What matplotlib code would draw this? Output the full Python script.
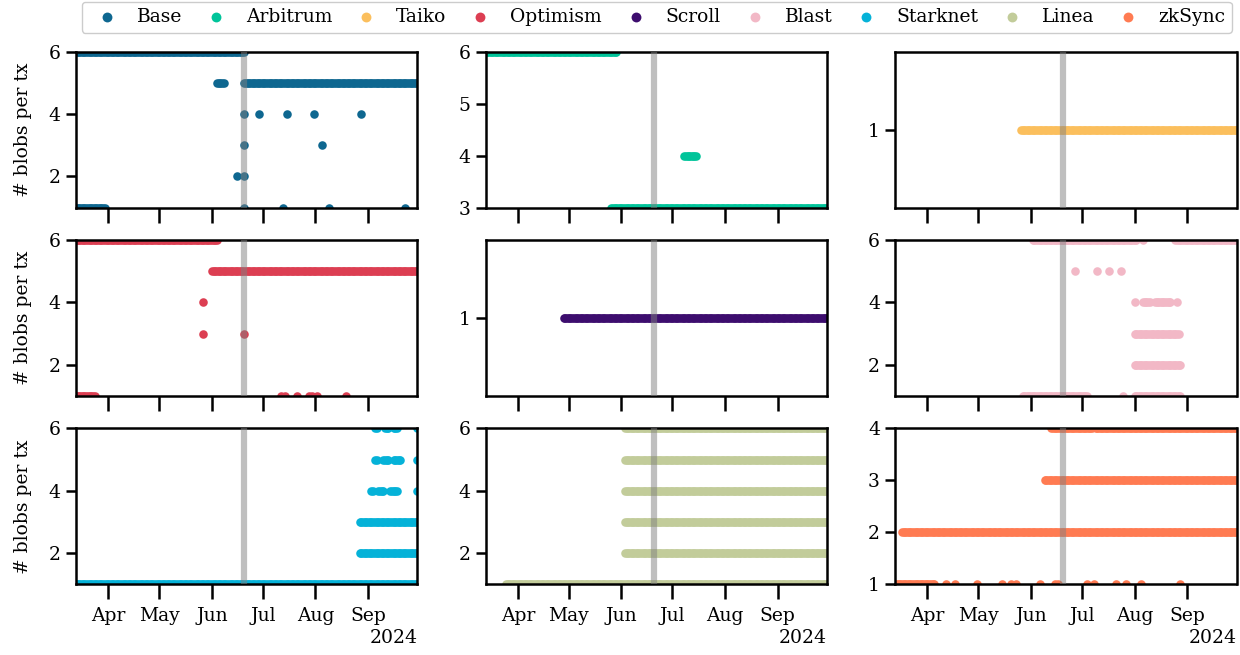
import pandas as pd
import matplotlib
matplotlib.use('Agg')
import matplotlib.pyplot as plt
import matplotlib.dates as mdates

plt.rcParams['font.family'] = 'serif'
plt.rcParams['font.serif'] = ['DejaVu Serif']
plt.rcParams['font.size'] = 13.5

chains = ['Base', 'Arbitrum', 'Taiko', 'Optimism', 'Scroll', 'Blast', 'Starknet', 'Linea', 'zkSync']
colors = ['#0e6790', '#00c49a', '#fbbf5d', '#dc3e52', '#3d0d6e', '#f2b8c6', '#05b2d8', '#c2cc9a', '#ff7b52']

x_start, x_end = '2024-03-13', '2024-09-30'
event_date = '2024-06-20'

# runs of consecutive days with the same blob count: (blobs, first day, last day)
# singles: (blobs, day)
base_runs = [(6, '2024-03-13', '2024-06-20'), (1, '2024-03-13', '2024-03-30'),
             (5, '2024-06-04', '2024-06-08'), (5, '2024-06-20', '2024-09-30')]
base_singles = [(4, '2024-06-20'), (4, '2024-06-29'), (4, '2024-07-15'), (4, '2024-07-31'), (4, '2024-08-28'),
                (3, '2024-06-20'), (3, '2024-08-05'), (2, '2024-06-16'), (2, '2024-06-20'),
                (1, '2024-06-20'), (1, '2024-07-13'), (1, '2024-08-09'), (1, '2024-09-23')]

arbitrum_runs = [(6, '2024-03-13', '2024-05-29'), (3, '2024-05-26', '2024-09-30'), (4, '2024-07-08', '2024-07-15')]
arbitrum_singles = []

taiko_runs = [(1, '2024-05-26', '2024-09-30')]
taiko_singles = []

optimism_runs = [(6, '2024-03-13', '2024-06-04'), (5, '2024-06-01', '2024-09-30'), (1, '2024-03-13', '2024-03-24')]
optimism_singles = [(4, '2024-05-27'), (3, '2024-05-27'), (3, '2024-06-20'),
                    (1, '2024-07-12'), (1, '2024-07-14'), (1, '2024-07-21'), (1, '2024-07-28'),
                    (1, '2024-07-30'), (1, '2024-08-02'), (1, '2024-08-19')]

scroll_runs = [(1, '2024-04-28', '2024-09-30')]
scroll_singles = []

blast_runs = [(6, '2024-06-02', '2024-08-02'), (6, '2024-08-25', '2024-09-30'),
              (4, '2024-08-06', '2024-08-10'), (4, '2024-08-13', '2024-08-22'),
              (3, '2024-08-01', '2024-08-27'), (2, '2024-08-01', '2024-08-28'),
              (1, '2024-05-27', '2024-07-04'), (1, '2024-08-01', '2024-08-28')]
blast_singles = [(6, '2024-08-06'), (5, '2024-06-27'), (5, '2024-07-10'), (5, '2024-07-17'), (5, '2024-07-24'),
                 (4, '2024-08-01'), (4, '2024-08-26'), (1, '2024-07-25')]

starknet_runs = [(1, '2024-03-13', '2024-09-30'), (2, '2024-08-27', '2024-09-30'), (3, '2024-08-27', '2024-09-30'),
                 (4, '2024-09-03', '2024-09-04'), (4, '2024-09-07', '2024-09-10'), (4, '2024-09-14', '2024-09-18'),
                 (5, '2024-09-05', '2024-09-06'), (5, '2024-09-10', '2024-09-13'), (5, '2024-09-16', '2024-09-20'),
                 (6, '2024-09-05', '2024-09-06'), (6, '2024-09-11', '2024-09-13'), (6, '2024-09-16', '2024-09-18')]
starknet_singles = [(4, '2024-09-30'), (5, '2024-09-30'), (6, '2024-09-30')]

linea_runs = [(1, '2024-03-25', '2024-09-30'), (2, '2024-06-03', '2024-09-30'), (3, '2024-06-03', '2024-09-30'),
              (4, '2024-06-03', '2024-09-30'), (5, '2024-06-03', '2024-09-30'), (6, '2024-06-03', '2024-09-30')]
linea_singles = []

zksync_runs = [(4, '2024-06-13', '2024-07-07'), (4, '2024-07-09', '2024-09-30'), (3, '2024-06-09', '2024-09-30'),
               (2, '2024-03-17', '2024-09-30'), (1, '2024-03-13', '2024-04-05')]
zksync_singles = [(1, '2024-04-12'), (1, '2024-04-17'), (1, '2024-04-30'), (1, '2024-05-15'), (1, '2024-05-20'),
                  (1, '2024-05-23'), (1, '2024-06-06'), (1, '2024-06-15'), (1, '2024-06-17'), (1, '2024-07-04'),
                  (1, '2024-07-08'), (1, '2024-07-21'), (1, '2024-07-27'), (1, '2024-08-05'), (1, '2024-08-28')]

yticks = [[2, 4, 6], [3, 4, 5, 6], [1], [2, 4, 6], [1], [2, 4, 6], [2, 4, 6], [2, 4, 6], [1, 2, 3, 4]]

all_runs = [base_runs, arbitrum_runs, taiko_runs, optimism_runs, scroll_runs,
            blast_runs, starknet_runs, linea_runs, zksync_runs]
all_singles = [base_singles, arbitrum_singles, taiko_singles, optimism_singles, scroll_singles,
               blast_singles, starknet_singles, linea_singles, zksync_singles]


def to_frame(runs, singles):
    rows = []
    for v, a, b in runs:
        for d in pd.date_range(a, b, freq='D'):
            rows.append((d, v))
    for v, d in singles:
        rows.append((pd.Timestamp(d), v))
    return pd.DataFrame(rows, columns=['date', 'blobs'])


fig, axes = plt.subplots(3, 3, figsize=(12.4, 6.55), dpi=100, sharex=True)
fig.subplots_adjust(left=76 / 1240, right=1236.5 / 1240, top=1 - 51.7 / 655, bottom=1 - 584.3 / 655,
                    wspace=0.2, hspace=0.208)

handles = []
for i, ax in enumerate(axes.flat):
    df = to_frame(all_runs[i], all_singles[i])
    h = ax.scatter(df['date'], df['blobs'], s=38, color=colors[i], linewidths=0, label=chains[i], zorder=2)
    handles.append(h)
    ax.axvline(pd.Timestamp(event_date), color='gray', alpha=0.5, lw=4.5, zorder=3)
    lo, hi = df['blobs'].min(), df['blobs'].max()
    if lo == hi:
        ax.set_ylim(lo - 0.05, hi + 0.05)
    else:
        ax.set_ylim(lo, hi)
    ax.set_yticks(yticks[i])
    ax.set_xlim(pd.Timestamp(x_start), pd.Timestamp(x_end))
    for s in ax.spines.values():
        s.set_linewidth(1.8)
    ax.tick_params(axis='y', width=1.8, length=7.5, labelsize=13.5)
    ax.tick_params(axis='x', width=1.8, length=10.5, pad=5.5, labelsize=13.5)
    if i % 3 == 0:
        ax.set_ylabel('# blobs per tx', fontsize=13.5, labelpad=12)

loc = mdates.MonthLocator()
axes[0, 0].xaxis.set_major_locator(loc)
axes[0, 0].xaxis.set_major_formatter(mdates.ConciseDateFormatter(loc))

fig.legend(handles=handles, labels=chains, loc='upper center', bbox_to_anchor=(0.5295, 1.012), ncol=9,
           fontsize=13.5, markerscale=1.15, handletextpad=0.6, columnspacing=0.8, fancybox=True,
           edgecolor='#cccccc', framealpha=1, borderpad=0.35)

fig.savefig('out.png', dpi=100)
